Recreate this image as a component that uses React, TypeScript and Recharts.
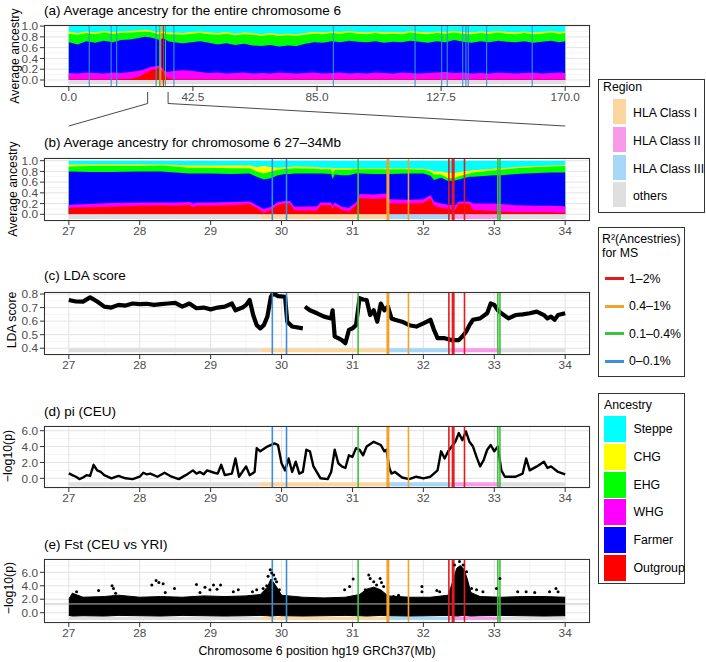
import React from 'react';
import { Area, CartesianGrid, ComposedChart, Line, ReferenceArea, ReferenceLine, Scatter, XAxis, YAxis } from 'recharts';

const FONT = '"Liberation Sans", Arial, Helvetica, sans-serif';
const PLOT_LEFT = 44;
const PLOT_RIGHT = 590;
const CHART_W = 592;
const AXIS_H = 26;
const PAD_TOP = 8;

const ANCESTRY = ['Steppe', 'CHG', 'EHG', 'WHG', 'Farmer', 'Outgroup'];
const ANCESTRY_COLORS = ['#00FFFF', '#FFFF00', '#00FF00', '#FF00FF', '#0000FF', '#FF0000'];

const REGIONS = ['HLA Class I', 'HLA Class II', 'HLA Class III', 'others'];
const REGION_COLORS = ['#FCD69F', '#F79AE9', '#A7D6F7', '#DFDFDF'];

const R2_CLASSES = ['1–2%', '0.4–1%', '0.1–0.4%', '0–0.1%'];
const R2_COLORS = ['#E41A1C', '#F2A32C', '#3EC23E', '#3A8FD8'];

// (a) whole chromosome, cumulative tops of each ancestry band
const genomePos = [0, 3, 6, 9, 12, 15, 18, 21, 24, 26, 28, 30, 31, 32, 33, 34, 36, 39, 42, 45, 48, 51, 54, 57, 60, 63, 66, 69, 72, 75, 78, 81, 84, 87, 90, 93, 96, 99, 102, 105, 108, 111, 114, 117, 120, 123, 126, 129, 132, 135, 138, 141, 144, 147, 150, 153, 156, 159, 162, 165, 168, 170];
const genomeOutgroup = [0.01, 0.01, 0.01, 0.01, 0.01, 0.01, 0.02, 0.02, 0.06, 0.12, 0.18, 0.21, 0.22, 0.16, 0.08, 0.03, 0.01, 0.01, 0.01, 0.01, 0.01, 0.01, 0.01, 0.01, 0.01, 0.01, 0.01, 0.01, 0.01, 0.01, 0.01, 0.01, 0.01, 0.01, 0.01, 0.01, 0.01, 0.01, 0.01, 0.01, 0.01, 0.01, 0.01, 0.01, 0.01, 0.01, 0.01, 0.01, 0.01, 0.01, 0.01, 0.01, 0.01, 0.01, 0.01, 0.01, 0.01, 0.01, 0.01, 0.01, 0.01, 0.01];
const genomeWHG = [0.13, 0.12, 0.14, 0.13, 0.12, 0.14, 0.13, 0.15, 0.17, 0.2, 0.24, 0.26, 0.27, 0.22, 0.16, 0.15, 0.17, 0.18, 0.17, 0.15, 0.13, 0.14, 0.12, 0.13, 0.14, 0.12, 0.13, 0.12, 0.14, 0.13, 0.12, 0.13, 0.14, 0.12, 0.13, 0.14, 0.12, 0.13, 0.12, 0.14, 0.13, 0.12, 0.14, 0.13, 0.12, 0.13, 0.14, 0.15, 0.13, 0.14, 0.12, 0.13, 0.12, 0.14, 0.13, 0.12, 0.13, 0.14, 0.12, 0.13, 0.14, 0.13];
const genomeFarmer = [0.7, 0.66, 0.72, 0.69, 0.73, 0.7, 0.74, 0.75, 0.78, 0.8, 0.79, 0.76, 0.74, 0.77, 0.76, 0.72, 0.7, 0.68, 0.7, 0.72, 0.69, 0.66, 0.68, 0.65, 0.67, 0.64, 0.63, 0.65, 0.62, 0.64, 0.63, 0.67, 0.7, 0.69, 0.72, 0.7, 0.73, 0.71, 0.7, 0.72, 0.69, 0.71, 0.7, 0.73, 0.71, 0.69, 0.72, 0.7, 0.74, 0.71, 0.69, 0.72, 0.7, 0.73, 0.71, 0.7, 0.72, 0.69, 0.71, 0.73, 0.7, 0.72];
const genomeEHG = [0.86, 0.84, 0.87, 0.85, 0.88, 0.86, 0.87, 0.88, 0.89, 0.9, 0.89, 0.86, 0.85, 0.87, 0.86, 0.85, 0.85, 0.84, 0.86, 0.87, 0.85, 0.84, 0.86, 0.83, 0.85, 0.84, 0.82, 0.84, 0.82, 0.83, 0.82, 0.84, 0.86, 0.85, 0.87, 0.86, 0.88, 0.86, 0.85, 0.87, 0.85, 0.86, 0.85, 0.88, 0.86, 0.85, 0.87, 0.86, 0.88, 0.86, 0.85, 0.87, 0.86, 0.88, 0.86, 0.85, 0.87, 0.85, 0.86, 0.88, 0.86, 0.87];
const genomeCHG = [0.89, 0.87, 0.9, 0.88, 0.91, 0.89, 0.9, 0.91, 0.92, 0.93, 0.92, 0.89, 0.88, 0.9, 0.89, 0.88, 0.88, 0.87, 0.89, 0.9, 0.88, 0.87, 0.89, 0.86, 0.88, 0.87, 0.85, 0.87, 0.85, 0.86, 0.85, 0.87, 0.89, 0.88, 0.9, 0.89, 0.91, 0.89, 0.88, 0.9, 0.88, 0.89, 0.88, 0.91, 0.89, 0.88, 0.9, 0.89, 0.91, 0.89, 0.88, 0.9, 0.89, 0.91, 0.89, 0.88, 0.9, 0.88, 0.89, 0.91, 0.89, 0.9];
const genomeTicks = [0, 42.5, 85, 127.5, 170];

// (b) 27-34Mb, cumulative tops
const zoomPos = [27.0, 27.3, 27.6, 28.0, 28.3, 28.5, 28.7, 28.75, 28.8, 29.0, 29.3, 29.55, 29.65, 29.75, 29.85, 29.95, 30.05, 30.12, 30.18, 30.5, 30.55, 30.7, 30.72, 30.75, 30.85, 30.95, 31.05, 31.1, 31.3, 31.48, 31.52, 31.8, 32.0, 32.1, 32.15, 32.25, 32.35, 32.45, 32.5, 32.65, 32.7, 33.0, 33.1, 33.3, 33.6, 33.8, 34.0];
const zoomOutgroup = [0.12, 0.13, 0.14, 0.16, 0.17, 0.16, 0.18, 0.13, 0.16, 0.16, 0.17, 0.19, 0.12, 0.03, 0.08, 0.18, 0.2, 0.2, 0.07, 0.07, 0.17, 0.17, 0.1, 0.17, 0.08, 0.05, 0.17, 0.3, 0.29, 0.3, 0.2, 0.2, 0.21, 0.3, 0.16, 0.12, 0.1, 0.08, 0.2, 0.19, 0.08, 0.06, 0.05, 0.04, 0.04, 0.04, 0.03];
const zoomWHG = [0.18, 0.19, 0.21, 0.22, 0.22, 0.22, 0.23, 0.2, 0.22, 0.22, 0.23, 0.24, 0.17, 0.1, 0.14, 0.23, 0.25, 0.25, 0.14, 0.15, 0.22, 0.22, 0.16, 0.22, 0.14, 0.12, 0.22, 0.38, 0.37, 0.39, 0.28, 0.27, 0.28, 0.36, 0.24, 0.2, 0.18, 0.17, 0.24, 0.24, 0.2, 0.2, 0.19, 0.17, 0.16, 0.16, 0.15];
const zoomFarmer = [0.8, 0.79, 0.79, 0.8, 0.8, 0.78, 0.76, 0.76, 0.76, 0.76, 0.75, 0.76, 0.7, 0.65, 0.67, 0.73, 0.75, 0.75, 0.76, 0.76, 0.76, 0.75, 0.66, 0.74, 0.73, 0.73, 0.76, 0.76, 0.75, 0.75, 0.75, 0.76, 0.76, 0.72, 0.64, 0.68, 0.62, 0.63, 0.65, 0.7, 0.7, 0.73, 0.73, 0.75, 0.77, 0.78, 0.78];
const zoomEHG = [0.89, 0.9, 0.9, 0.9, 0.91, 0.89, 0.87, 0.87, 0.87, 0.87, 0.86, 0.86, 0.8, 0.76, 0.8, 0.83, 0.85, 0.85, 0.86, 0.85, 0.84, 0.84, 0.76, 0.83, 0.83, 0.83, 0.84, 0.84, 0.84, 0.84, 0.84, 0.84, 0.83, 0.8, 0.74, 0.74, 0.67, 0.68, 0.71, 0.76, 0.78, 0.82, 0.83, 0.86, 0.88, 0.89, 0.9];
const zoomCHG = [0.93, 0.93, 0.93, 0.93, 0.93, 0.92, 0.91, 0.91, 0.91, 0.91, 0.91, 0.91, 0.88, 0.9, 0.88, 0.87, 0.88, 0.88, 0.89, 0.88, 0.87, 0.87, 0.85, 0.86, 0.86, 0.86, 0.86, 0.86, 0.86, 0.86, 0.86, 0.86, 0.85, 0.83, 0.8, 0.8, 0.77, 0.77, 0.79, 0.81, 0.82, 0.85, 0.86, 0.88, 0.9, 0.91, 0.92];
const zoomTicks = [27, 28, 29, 30, 31, 32, 33, 34];

// (c) LDA score
const ldaPos = [27.0, 27.1, 27.2, 27.3, 27.4, 27.5, 27.6, 27.7, 27.8, 27.9, 28.0, 28.1, 28.2, 28.3, 28.4, 28.5, 28.6, 28.7, 28.8, 28.9, 29.0, 29.1, 29.2, 29.3, 29.35, 29.45, 29.5, 29.55, 29.6, 29.65, 29.7, 29.75, 29.8, 29.85, 29.88, 29.95, 30.05, 30.08, 30.15, 30.3, 30.32, 30.33, 30.4, 30.5, 30.6, 30.7, 30.72, 30.75, 30.8, 30.85, 30.9, 30.95, 31.0, 31.05, 31.1, 31.15, 31.2, 31.25, 31.3, 31.35, 31.4, 31.45, 31.5, 31.55, 31.6, 31.7, 31.8, 31.9, 32.0, 32.1, 32.15, 32.2, 32.3, 32.4, 32.5, 32.55, 32.6, 32.65, 32.7, 32.8, 32.9, 32.95, 33.0, 33.05, 33.1, 33.2, 33.3, 33.4, 33.5, 33.6, 33.7, 33.75, 33.8, 33.85, 33.9, 34.0];
const ldaScore = [0.756, 0.745, 0.744, 0.775, 0.745, 0.707, 0.7, 0.72, 0.715, 0.73, 0.725, 0.728, 0.72, 0.725, 0.73, 0.735, 0.707, 0.73, 0.695, 0.7, 0.687, 0.7, 0.707, 0.73, 0.68, 0.7, 0.72, 0.756, 0.645, 0.57, 0.547, 0.57, 0.633, 0.78, 0.805, 0.785, 0.78, 0.596, 0.56, 0.547, null, 0.707, 0.68, 0.658, 0.633, 0.62, 0.68, 0.486, 0.474, 0.46, 0.437, 0.535, 0.547, 0.57, 0.77, 0.76, 0.756, 0.645, 0.68, 0.596, 0.73, 0.68, 0.707, 0.62, 0.61, 0.596, 0.57, 0.56, 0.584, 0.61, 0.535, 0.474, 0.474, 0.46, 0.46, 0.486, 0.52, 0.57, 0.61, 0.62, 0.658, 0.73, 0.72, 0.68, 0.658, 0.62, 0.645, 0.65, 0.658, 0.67, 0.645, 0.62, 0.633, 0.61, 0.645, 0.658];

// (d) pi (CEU), -log10(p)
const piPos = [27.0, 27.05, 27.1, 27.15, 27.2, 27.25, 27.3, 27.35, 27.4, 27.45, 27.5, 27.6, 27.7, 27.8, 27.9, 28.0, 28.05, 28.1, 28.15, 28.25, 28.35, 28.45, 28.55, 28.65, 28.75, 28.8, 28.85, 28.9, 28.95, 29.05, 29.1, 29.15, 29.2, 29.3, 29.35, 29.4, 29.5, 29.55, 29.62, 29.65, 29.7, 29.8, 29.9, 29.95, 30.0, 30.05, 30.1, 30.15, 30.2, 30.25, 30.3, 30.35, 30.4, 30.45, 30.55, 30.65, 30.7, 30.75, 30.8, 30.85, 30.9, 30.95, 31.0, 31.05, 31.1, 31.15, 31.2, 31.3, 31.4, 31.45, 31.48, 31.52, 31.55, 31.6, 31.7, 31.8, 31.9, 32.0, 32.1, 32.2, 32.25, 32.3, 32.35, 32.4, 32.45, 32.5, 32.55, 32.6, 32.65, 32.7, 32.75, 32.8, 32.85, 32.9, 32.95, 33.0, 33.05, 33.1, 33.15, 33.3, 33.4, 33.45, 33.5, 33.6, 33.7, 33.75, 33.8, 33.9, 34.0];
const piLogP = [0.63, 0.4, 0.2, -0.1, 0.1, 0.4, 0.3, 1.7, 1.0, 0.8, 0.4, 0, 0.3, 0, -0.1, 0.2, 0.7, 0.5, 0.6, 0.2, 0.7, 0.2, -0.1, 0.4, 1.0, 0.6, 0.8, 0.5, 1.0, 0.7, 0.6, 1.7, 0.4, 0.6, 2.5, 0.2, 1.5, 0.4, 0.8, 3.8, 3.4, 4.0, 4.4, 4.2, 1.9, 1.0, 2.5, 0.8, 2.1, 0.6, 0.8, 3.6, 3.4, 1.5, 0, -0.1, 0.8, 3.6, 1.9, 1.5, 1.3, 2.9, 2.7, 3.8, 3.6, 2.9, 4.0, 4.6, 4.2, 3.4, 3.6, 1.3, 0.6, 0.8, 0.1, -0.1, 0.2, 0, 0.2, 1.0, 3.4, 2.5, 3.4, 4.0, 4.6, 5.7, 4.8, 5.9, 4.6, 4.0, 2.7, 1.5, 2.3, 3.6, 4.2, 3.4, 4.0, 1.0, 0.2, 0.2, 0.6, 2.5, 1.0, 1.5, 2.1, 1.3, 1.5, 0.8, 0.5];

// (e) Fst (CEU vs YRI): dense band envelope plus outlying SNPs
const fstPos = [27.0, 27.05, 27.2, 27.5, 27.7, 28.0, 28.3, 28.6, 28.9, 29.2, 29.5, 29.7, 29.8, 29.85, 29.9, 29.95, 30.0, 30.3, 30.6, 30.9, 31.1, 31.2, 31.3, 31.4, 31.5, 31.8, 32.1, 32.35, 32.42, 32.47, 32.52, 32.57, 32.62, 32.67, 32.8, 33.1, 33.4, 33.7, 34.0];
const fstHigh = [2.0, 2.9, 2.3, 2.4, 2.6, 2.3, 2.4, 2.3, 2.5, 2.4, 2.5, 2.7, 3.8, 5.0, 4.3, 3.5, 2.6, 2.3, 2.2, 2.3, 2.7, 3.5, 3.8, 3.4, 2.5, 2.3, 2.3, 2.6, 4.8, 6.6, 7.0, 6.5, 5.0, 3.0, 2.4, 2.3, 2.4, 2.4, 2.3];
const fstLow = [-0.4, -0.5, -0.45, -0.5, -0.4, -0.45, -0.5, -0.4, -0.45, -0.5, -0.45, -0.4, -0.45, -0.5, -0.45, -0.4, -0.45, -0.5, -0.45, -0.4, -0.45, -0.5, -0.45, -0.4, -0.45, -0.5, -0.45, -0.4, -0.45, -0.5, -0.45, -0.4, -0.45, -0.5, -0.45, -0.4, -0.45, -0.5, -0.45];
const fstSnpPos = [27.11, 27.42, 27.61, 27.63, 27.66, 28.17, 28.23, 28.27, 28.33, 28.36, 28.49, 28.8, 28.85, 28.92, 28.99, 29.04, 29.09, 29.14, 29.32, 29.39, 29.59, 29.65, 29.74, 29.79, 29.81, 29.84, 29.86, 29.89, 29.91, 29.93, 29.97, 30.89, 30.96, 31.01, 31.18, 31.23, 31.25, 31.3, 31.34, 31.39, 31.41, 31.44, 31.58, 31.65, 31.98, 31.98, 32.19, 32.23, 32.44, 32.51, 32.56, 32.61, 32.68, 32.75, 32.84, 33.03, 33.08, 33.33, 33.45, 33.57, 33.78, 33.87, 33.9];
const fstSnpLogP = [3.1, 3.3, 4.0, 3.6, 2.9, 4.1, 4.8, 4.5, 4.3, 3.0, 3.6, 4.2, 3.0, 3.8, 3.4, 4.1, 3.5, 4.1, 3.1, 3.4, 3.1, 3.4, 3.6, 4.0, 5.4, 6.4, 5.9, 5.6, 5.0, 4.6, 3.4, 3.4, 3.9, 5.0, 3.4, 5.6, 5.1, 4.6, 4.1, 5.1, 4.5, 3.9, 2.4, 2.6, 3.9, 3.1, 3.3, 3.1, 7.1, 7.6, 7.1, 6.1, 3.6, 3.4, 3.1, 3.6, 5.1, 3.1, 3.1, 3.0, 3.1, 3.6, 3.1];

// regions and R2 marker lines
const zoomRegionStart = [27, 29.7, 31.5, 32.4, 33.1];
const zoomRegionEnd = [29.7, 31.5, 32.4, 33.1, 34];
const zoomRegionName = ['others', 'HLA Class I', 'HLA Class III', 'HLA Class II', 'others'];
const genomeRegionStart = [0, 29.7, 31.5, 32.4];
const genomeRegionEnd = [170, 31.5, 32.4, 33.1];
const genomeRegionName = ['others', 'HLA Class I', 'HLA Class III', 'HLA Class II'];

const zoomLinePos = [29.87, 30.07, 31.08, 31.49, 31.51, 31.79, 32.36, 32.41, 32.43, 32.58, 33.05, 33.08];
const zoomLineClass = ['0–0.1%', '0–0.1%', '0.1–0.4%', '0.4–1%', '0.4–1%', '0.4–1%', '1–2%', '1–2%', '1–2%', '1–2%', '0.1–0.4%', '0.1–0.4%'];
const genomeLinePos = [7.0, 14.5, 16.4, 29.9, 31.1, 31.5, 32.4, 33.1, 36.0, 90.6, 118.6, 127.7, 129.6, 134.9, 136.0, 136.8, 143.1, 158.7];
const genomeLineClass = ['0–0.1%', '0–0.1%', '0–0.1%', '0–0.1%', '0.1–0.4%', '0.4–1%', '1–2%', '0.1–0.4%', '0–0.1%', '0–0.1%', '0–0.1%', '0–0.1%', '0–0.1%', '0–0.1%', '0–0.1%', '0–0.1%', '0–0.1%', '0–0.1%'];

const GENOME_DOMAIN: [number, number] = [-8.5, 178.5];
const ZOOM_DOMAIN: [number, number] = [26.65, 34.35];

// bands painted from the top one down, each filled to 0
const BAND_KEYS = ['total', 'chg', 'ehg', 'farmer', 'whg', 'outgroup'];
const BAND_COLORS = ['#00FFFF', '#FFFF00', '#00FF00', '#0000FF', '#FF00FF', '#FF0000'];

const regionColor = (name: string) => REGION_COLORS[REGIONS.indexOf(name)];
const r2Color = (c: string) => R2_COLORS[R2_CLASSES.indexOf(c)];
const oneDec = (v: number) => v.toFixed(1);

function strips(starts: number[], ends: number[], names: string[], y1: number, y2: number) {
  return starts.map((s, i) => (
    <ReferenceArea key={`r${i}`} x1={s} x2={ends[i]} y1={y1} y2={y2} fill={regionColor(names[i])} fillOpacity={1} stroke="none" ifOverflow="hidden" />
  ));
}

function vlines(pos: number[], cls: string[], w: number) {
  return pos.map((x, i) => <ReferenceLine key={`v${i}`} x={x} stroke={r2Color(cls[i])} strokeWidth={w} />);
}

function ancestryAreas(prefix: string) {
  return BAND_KEYS.map((k, i) => (
    <Area key={`${prefix}${k}`} type="linear" dataKey={k} baseValue={0} stroke="none" fill={BAND_COLORS[i]} fillOpacity={1} dot={false} activeDot={false} isAnimationActive={false} />
  ));
}

function Panel({
  top, h, yDomain, yTicks, yMinor, xDomain, xTicks, xMinor, xFormat, data, children,
}: {
  top: number; h: number; yDomain: [number, number]; yTicks: number[]; yMinor: number[];
  xDomain: [number, number]; xTicks: number[]; xMinor: number[]; xFormat: (v: number) => string;
  data: any[]; children: React.ReactNode;
}) {
  const tick = { fontSize: 11.8, fill: '#4D4D4D', fontFamily: FONT };
  return (
    <div style={{ position: 'absolute', left: 0, top: top - PAD_TOP }}>
      <ComposedChart width={CHART_W} height={h + AXIS_H + PAD_TOP} data={data} margin={{ top: PAD_TOP, right: CHART_W - PLOT_RIGHT, bottom: 0, left: 0 }}>
        <CartesianGrid stroke="#F2F2F2" strokeWidth={0.8} horizontalValues={yMinor} verticalValues={xMinor} />
        <CartesianGrid stroke="#E3E3E3" />
        <XAxis type="number" dataKey="x" domain={xDomain} ticks={xTicks} allowDataOverflow interval={0} height={AXIS_H}
          axisLine={false} tickSize={4} tickLine={{ stroke: '#333' }} tick={tick} tickFormatter={xFormat} />
        <YAxis type="number" domain={yDomain} ticks={yTicks} allowDataOverflow interval={0} width={PLOT_LEFT}
          axisLine={false} tickSize={4} tickLine={{ stroke: '#333' }} tick={tick} tickFormatter={oneDec} />
        {children}
      </ComposedChart>
      <div style={{ position: 'absolute', left: PLOT_LEFT, top: PAD_TOP, width: PLOT_RIGHT - PLOT_LEFT, height: h, border: '1px solid #333', boxSizing: 'border-box', pointerEvents: 'none' }} />
    </div>
  );
}

const Txt = ({ x, cy, children, size = 12.3 }: { x: number; cy: number; children: React.ReactNode; size?: number }) => (
  <div style={{ position: 'absolute', left: x, top: cy - 8, lineHeight: '16px', fontSize: size, whiteSpace: 'nowrap' }}>{children}</div>
);

const VTxt = ({ cx, cy, children }: { cx: number; cy: number; children: React.ReactNode }) => (
  <div style={{ position: 'absolute', left: cx, top: cy, transform: 'translate(-50%,-50%) rotate(-90deg)', fontSize: 12.3, lineHeight: '14px', whiteSpace: 'nowrap' }}>{children}</div>
);

const scaleX = (d: [number, number], v: number) => PLOT_LEFT + ((v - d[0]) / (d[1] - d[0])) * (PLOT_RIGHT - PLOT_LEFT);

export default function App() {
  const genomeRows = genomePos.map((x, i) => ({
    x, total: 1, chg: genomeCHG[i], ehg: genomeEHG[i], farmer: genomeFarmer[i], whg: genomeWHG[i], outgroup: genomeOutgroup[i],
  }));
  const zoomRows = zoomPos.map((x, i) => ({
    x, total: 1, chg: zoomCHG[i], ehg: zoomEHG[i], farmer: zoomFarmer[i], whg: zoomWHG[i], outgroup: zoomOutgroup[i],
  }));
  const ldaRows = ldaPos.map((x, i) => ({ x, y: ldaScore[i] }));
  const piRows = piPos.map((x, i) => ({ x, y: piLogP[i] }));
  const fstRows = fstPos.map((x, i) => ({ x, low: fstLow[i], high: fstHigh[i] }));
  const fstSnps = fstSnpPos.map((x, i) => ({ x, y: fstSnpLogP[i] }));

  const zoomMinor = [27.5, 28.5, 29.5, 30.5, 31.5, 32.5, 33.5];
  const a27 = scaleX(GENOME_DOMAIN, 27);
  const a34 = scaleX(GENOME_DOMAIN, 34);
  const b27 = scaleX(ZOOM_DOMAIN, 27);
  const b34 = scaleX(ZOOM_DOMAIN, 34);

  return (
    <div style={{ position: 'absolute', left: 0, top: 0, width: 706, height: 662, background: '#fff', overflow: 'hidden', fontFamily: FONT, color: '#000' }}>
      <svg width={706} height={662} style={{ position: 'absolute', left: 0, top: 0 }}>
        <polyline points={`${a27},92 ${a27},103.5 ${b27},126`} fill="none" stroke="#333" strokeWidth={0.9} />
        <polyline points={`${a34},92 ${a34},103.5 ${b34},126`} fill="none" stroke="#333" strokeWidth={0.9} />
      </svg>

      <Txt x={44} cy={11} size={13.5}>(a) Average ancestry for the entire chromosome 6</Txt>
      <VTxt cx={15} cy={56}>Average ancestry</VTxt>
      <Panel top={25} h={62} yDomain={[-0.13, 1.02]} yTicks={[0, 0.2, 0.4, 0.6, 0.8, 1]} yMinor={[0.1, 0.3, 0.5, 0.7, 0.9]}
        xDomain={GENOME_DOMAIN} xTicks={genomeTicks} xMinor={[21.25, 63.75, 106.25, 148.75]} xFormat={oneDec} data={genomeRows}>
        {[
          ...ancestryAreas('a'),
          ...strips(genomeRegionStart, genomeRegionEnd, genomeRegionName, -0.08, 0),
          ...vlines(genomeLinePos, genomeLineClass, 1.1),
        ]}
      </Panel>

      <Txt x={44} cy={142.5} size={13.5}>(b) Average ancestry for chromosome 6 27–34Mb</Txt>
      <VTxt cx={13} cy={189}>Average ancestry</VTxt>
      <Panel top={158} h={63} yDomain={[-0.125, 1.05]} yTicks={[0, 0.2, 0.4, 0.6, 0.8, 1]} yMinor={[0.1, 0.3, 0.5, 0.7, 0.9]}
        xDomain={ZOOM_DOMAIN} xTicks={zoomTicks} xMinor={zoomMinor} xFormat={String} data={zoomRows}>
        {[
          ...ancestryAreas('b'),
          ...strips(zoomRegionStart, zoomRegionEnd, zoomRegionName, -0.09, 0),
          ...vlines(zoomLinePos, zoomLineClass, 1.6),
        ]}
      </Panel>

      <Txt x={44} cy={276} size={13.5}>(c) LDA score</Txt>
      <VTxt cx={12} cy={320}>LDA score</VTxt>
      <Panel top={292} h={63} yDomain={[0.35, 0.815]} yTicks={[0.4, 0.5, 0.6, 0.7, 0.8]} yMinor={[0.45, 0.55, 0.65, 0.75]}
        xDomain={ZOOM_DOMAIN} xTicks={zoomTicks} xMinor={zoomMinor} xFormat={String} data={ldaRows}>
        {[
          ...strips(zoomRegionStart, zoomRegionEnd, zoomRegionName, 0.37, 0.4),
          <Line key="lda" type="linear" dataKey="y" stroke="#000" strokeWidth={4.2} strokeLinejoin="round" dot={false} activeDot={false} isAnimationActive={false} />,
          ...vlines(zoomLinePos, zoomLineClass, 1.6),
        ]}
      </Panel>

      <Txt x={44} cy={412} size={13.5}>(d) pi (CEU)</Txt>
      <VTxt cx={8} cy={456}>−log10(p)</VTxt>
      <Panel top={426} h={62} yDomain={[-1.22, 6.59]} yTicks={[0, 2, 4, 6]} yMinor={[-1, 1, 3, 5]}
        xDomain={ZOOM_DOMAIN} xTicks={zoomTicks} xMinor={zoomMinor} xFormat={String} data={piRows}>
        {[
          ...strips(zoomRegionStart, zoomRegionEnd, zoomRegionName, -1.0, -0.5),
          <Line key="pi" type="linear" dataKey="y" stroke="#000" strokeWidth={2.4} strokeLinejoin="round" dot={false} activeDot={false} isAnimationActive={false} />,
          ...vlines(zoomLinePos, zoomLineClass, 1.6),
        ]}
      </Panel>

      <Txt x={44} cy={545} size={13.5}>(e) Fst (CEU vs YRI)</Txt>
      <VTxt cx={9} cy={588}>−log10(p)</VTxt>
      <Panel top={559} h={64} yDomain={[-1.53, 7.98]} yTicks={[0, 2, 4, 6]} yMinor={[-1, 1, 3, 5, 7]}
        xDomain={ZOOM_DOMAIN} xTicks={zoomTicks} xMinor={zoomMinor} xFormat={String} data={fstRows}>
        {[
          ...strips(zoomRegionStart, zoomRegionEnd, zoomRegionName, -1.1, -0.6),
          <Area key="band" type="linear" dataKey={(d: any) => [d.low, d.high]} stroke="#000" strokeWidth={1} fill="#000" fillOpacity={1} dot={false} activeDot={false} isAnimationActive={false} />,
          <Scatter key="snps" data={fstSnps} dataKey="y" isAnimationActive={false}
            shape={(p: any) => <circle cx={p.cx} cy={p.cy} r={1.5} fill="#000" />} />,
          <ReferenceLine key="sig" y={1.3} stroke="#BDBDBD" strokeWidth={1} />,
          ...vlines(zoomLinePos, zoomLineClass, 1.6),
        ]}
      </Panel>
      <div style={{ position: 'absolute', left: 317, top: 643, transform: 'translateX(-50%)', fontSize: 12.3, lineHeight: '16px', whiteSpace: 'nowrap' }}>
        Chromosome 6 position hg19 GRCh37(Mb)
      </div>

      {/* Region legend */}
      <div style={{ position: 'absolute', left: 598, top: 79, width: 107, height: 134, border: '1px solid #333', boxSizing: 'border-box' }}>
        <Txt x={4} cy={7}>Region</Txt>
        {REGIONS.map((r, i) => (
          <React.Fragment key={r}>
            <div style={{ position: 'absolute', left: 14, top: 19 + i * 27.8, width: 12.5, height: 25, background: REGION_COLORS[i] }} />
            <Txt x={34} cy={33 + i * 27.8}>{r}</Txt>
          </React.Fragment>
        ))}
      </div>

      {/* R2 legend */}
      <div style={{ position: 'absolute', left: 598, top: 227, width: 87, height: 150, border: '1px solid #333', boxSizing: 'border-box' }}>
        <Txt x={3} cy={11}>R²(Ancestries)</Txt>
        <Txt x={3} cy={24.5}>for MS</Txt>
        {R2_CLASSES.map((c, i) => (
          <React.Fragment key={c}>
            <div style={{ position: 'absolute', left: 6, top: 49 + i * 27.6, width: 18.5, height: 3, background: R2_COLORS[i] }} />
            <Txt x={30} cy={50.5 + i * 27.6}>{c}</Txt>
          </React.Fragment>
        ))}
      </div>

      {/* Ancestry legend */}
      <div style={{ position: 'absolute', left: 598, top: 393, width: 87, height: 191, border: '1px solid #333', boxSizing: 'border-box' }}>
        <Txt x={5} cy={10.5}>Ancestry</Txt>
        {ANCESTRY.map((a, i) => (
          <React.Fragment key={a}>
            <div style={{ position: 'absolute', left: 4.5, top: 22 + i * 27.8, width: 22.7, height: 26, background: ANCESTRY_COLORS[i] }} />
            <Txt x={34.5} cy={35 + i * 27.8}>{a}</Txt>
          </React.Fragment>
        ))}
      </div>
    </div>
  );
}
